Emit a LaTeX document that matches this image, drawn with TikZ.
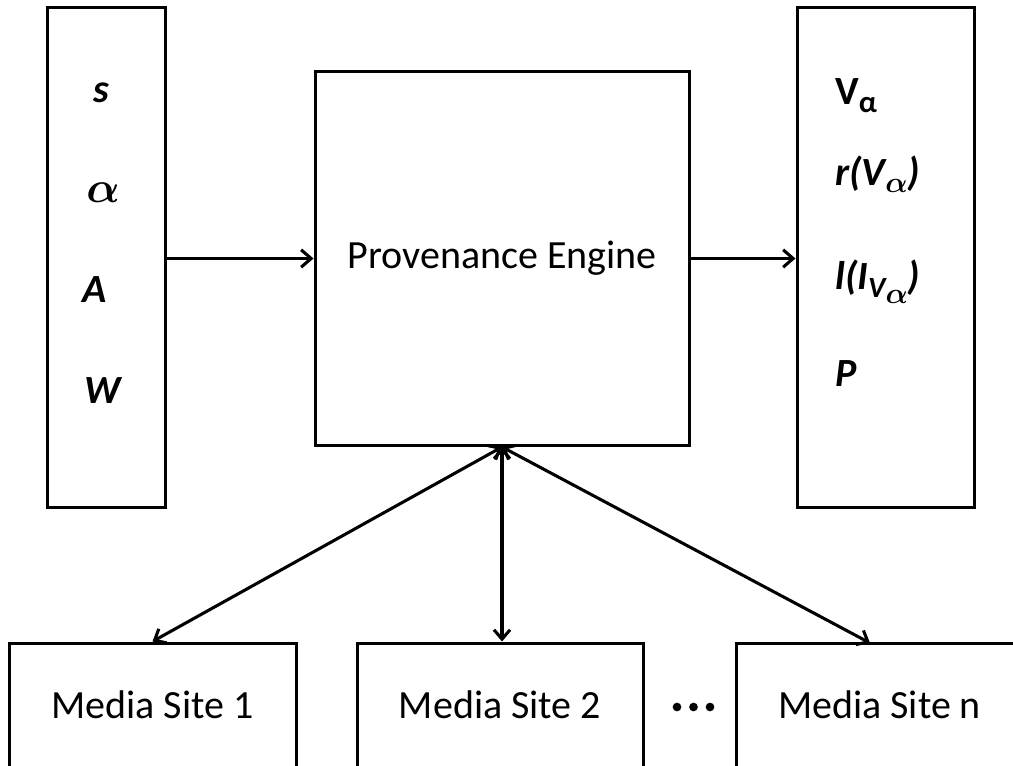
\RequirePackage{fix-cm}
\documentclass[tikz,border=0pt]{standalone}
\usepackage{bm}
\usepackage{fontspec}
\setmainfont{Carlito}
\usetikzlibrary{arrows.meta}

\newcommand{\bigtext}{\fontsize{30}{36}\selectfont}
\newcommand{\subtext}{\fontsize{22}{26}\selectfont}
\newcommand{\bi}[1]{{\bfseries\itshape #1}}
\newcommand{\balpha}{$\bm{\alpha}$}

\begin{document}
\begin{tikzpicture}[x=0.75pt,y=-0.75pt,
  every node/.style={font=\bigtext, inner sep=0pt},
  frame/.style={draw, line width=2.25pt},
  item/.style={anchor=base west},
  bullet/.style={circle, fill, minimum size=6.5pt},
  flow/.style={line width=2.3pt, -{Straight Barb[length=7.5pt,width=13pt]}},
  link/.style={line width=2.3pt, {Straight Barb[length=7pt,width=12pt]}-{Straight Barb[length=7pt,width=12pt]}}]

\useasboundingbox (0,0) rectangle (1013,766);

% input parameters, engine and outputs
\node[frame, minimum width=88.5pt, minimum height=374.25pt] (in) at (106,257.5) {};
\node[frame, minimum width=280.5pt, minimum height=279.75pt] (pe) at (502,258.5) {Provenance Engine};
\node[frame, minimum width=132.75pt, minimum height=374.25pt] (out) at (885.5,257.5) {};

% media sites along the bottom
\node[frame, minimum width=215.25pt, minimum height=93pt] (m1) at (152.5,705) {Media Site 1};
\node[frame, minimum width=214.5pt, minimum height=93pt] (m2) at (500,705) {Media Site 2};
\node[frame, minimum width=215.25pt, minimum height=93pt] (m3) at (879.5,705) {Media Site n};
\node[bullet] (d1) at (677,707) {};
\node[bullet] (d2) at (693.5,707) {};
\node[bullet] (d3) at (710,707) {};

% contents of the input box
\node[item] (s) at (93,103) {\bi{s}};
\node[item, font=\fontsize{33}{36}\selectfont] (al) at (86,203) {\balpha};
\node[item] (a) at (82,303) {\bi{A}};
\node[item] (w) at (84,403) {\bi{W}};

% contents of the output box
\node[item] (va) at (835,105) {\textbf{V}\raisebox{-6pt}{\fontsize{23}{26}\selectfont\textbf{α}}};
\node[item] (rv) at (835,186) {\bi{r(V}\raisebox{-5pt}{\subtext\balpha}\bi{)}};
\node[item] (li) at (835,290) {\bi{l(I}\raisebox{-6pt}{\subtext\bi{V}\raisebox{-4pt}{\subtext\balpha}}\bi{)}};
\node[item] (p) at (835,387) {\bi{P}};

% connectors
\coordinate (top) at (502,447);
\coordinate (m3in) at (870,643);
\draw[flow] (in.east |- pe.west) -- (pe.west);
\draw[flow] (pe.east) -- (out.west |- pe.east);
\draw[link] (top) -- (m1.north);
\draw[link] (top) -- (m2.north -| top);
\draw[link] (top) -- (m3in);
\end{tikzpicture}
\end{document}
